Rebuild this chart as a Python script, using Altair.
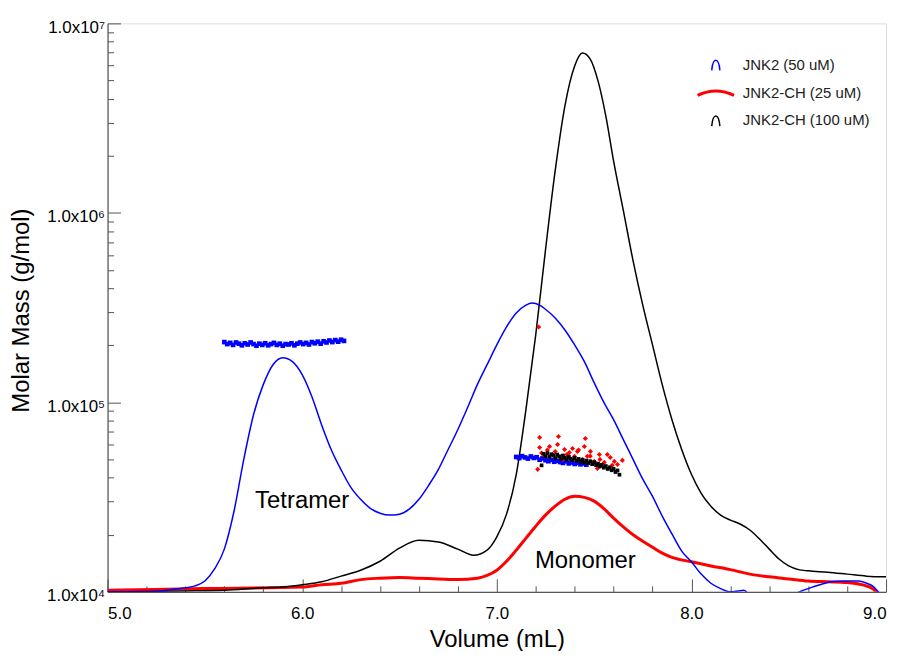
import altair as alt
import pandas as pd

# ---------------- data ----------------
SERIES = ["JNK2 (50 uM)", "JNK2-CH (25 uM)", "JNK2-CH (100 uM)"]
COLORS = ["#0000ff", "#ff0000", "#000000"]
WIDTHS = [1.5, 3.0, 1.5]

X_TICKS = [5.0, 6.0, 7.0, 8.0, 9.0]
X_MINOR = [5.2, 5.4, 5.6, 5.8, 6.2, 6.4, 6.6, 6.8, 7.2, 7.4, 7.6, 7.8, 8.2, 8.4, 8.6, 8.8]
Y_TICKS = [1e4, 1e5, 1e6, 1e7]
Y_LABELS = ["1.0x10\u2074", "1.0x10\u2075", "1.0x10\u2076", "1.0x10\u2077"]
Y_MINOR = [2e4, 3e4, 4e4, 5e4, 6e4, 7e4, 8e4, 9e4,
           2e5, 3e5, 4e5, 5e5, 6e5, 7e5, 8e5, 9e5,
           2e6, 3e6, 4e6, 5e6, 6e6, 7e6, 8e6, 9e6]

# blue line: JNK2 (50 uM)
BLUE_V = [5.0, 5.2, 5.3, 5.4, 5.45, 5.5, 5.55, 5.6, 5.65, 5.7, 5.75, 5.8, 5.85, 5.9, 5.95,
          6.0, 6.05, 6.1, 6.15, 6.2, 6.25, 6.3, 6.35, 6.4, 6.45, 6.5, 6.55, 6.6, 6.65, 6.7,
          6.75, 6.8, 6.85, 6.9, 6.95, 7.0, 7.05, 7.1, 7.15, 7.18, 7.22, 7.25, 7.3, 7.35, 7.4,
          7.45, 7.5, 7.55, 7.6, 7.65, 7.7, 7.75, 7.8, 7.85, 7.9, 7.95, 8.0, 8.05, 8.1, 8.15,
          8.2, 8.24, 8.27, 8.3, 8.4, 8.5, 8.555, 8.6, 8.66, 8.72, 8.78, 8.86, 8.9, 8.93, 8.96, 8.98]
BLUE_M = [1.0e4, 1.0e4, 1.02e4, 1.05e4, 1.075e4, 1.14e4, 1.32e4, 1.68e4, 2.67e4, 5.0e4,
          8.6e4, 1.24e5, 1.58e5, 1.72e5, 1.64e5, 1.40e5, 1.07e5, 7.6e4, 5.6e4, 4.4e4,
          3.56e4, 3.08e4, 2.76e4, 2.60e4, 2.54e4, 2.57e4, 2.73e4, 3.08e4, 3.65e4, 4.43e4,
          5.64e4, 7.19e4, 9.4e4, 1.24e5, 1.58e5, 2.01e5, 2.50e5, 2.96e5, 3.26e5, 3.34e5,
          3.26e5, 3.10e5, 2.79e5, 2.41e5, 2.01e5, 1.64e5, 1.27e5, 1.0e5, 8.1e4, 6.36e4,
          5.0e4, 3.93e4, 3.19e4, 2.51e4, 2.02e4, 1.64e4, 1.44e4, 1.24e4, 1.11e4, 1.04e4,
          1.0e4, 1.01e4, 1.02e4, 0.96e4, 0.9e4, 0.93e4, 1.0e4, 1.04e4, 1.09e4, 1.13e4,
          1.14e4, 1.14e4, 1.11e4, 1.075e4, 1.0e4, 0.95e4]

# red line: JNK2-CH (25 uM)
RED_V = [5.0, 5.5, 6.0, 6.1, 6.2, 6.3, 6.4, 6.5, 6.6, 6.7, 6.8, 6.9, 6.95, 7.0, 7.05,
         7.1, 7.15, 7.2, 7.25, 7.3, 7.35, 7.4, 7.45, 7.5, 7.55, 7.6, 7.65, 7.7, 7.75, 7.8,
         7.85, 7.9, 8.0, 8.1, 8.2, 8.3, 8.4, 8.5, 8.6, 8.7, 8.8, 8.86, 8.93, 8.95, 8.97]
RED_M = [1.02e4, 1.04e4, 1.06e4, 1.09e4, 1.11e4, 1.16e4, 1.18e4, 1.19e4, 1.18e4, 1.17e4,
         1.16e4, 1.18e4, 1.22e4, 1.30e4, 1.45e4, 1.66e4, 1.92e4, 2.22e4, 2.54e4, 2.83e4,
         3.08e4, 3.19e4, 3.15e4, 3.01e4, 2.75e4, 2.45e4, 2.20e4, 2.00e4, 1.85e4, 1.72e4,
         1.60e4, 1.52e4, 1.44e4, 1.37e4, 1.31e4, 1.24e4, 1.20e4, 1.17e4, 1.14e4, 1.13e4,
         1.12e4, 1.10e4, 1.04e4, 1.0e4, 0.95e4]

# black line: JNK2-CH (100 uM)
BLACK_V = [5.0, 5.4, 5.6, 5.8, 5.9, 6.0, 6.1, 6.2, 6.3, 6.4, 6.5, 6.6, 6.7, 6.8, 6.88,
           6.95, 7.0, 7.05, 7.1, 7.15, 7.2, 7.25, 7.3, 7.35, 7.4, 7.44, 7.48, 7.52, 7.56, 7.6,
           7.65, 7.7, 7.75, 7.8, 7.85, 7.9, 7.95, 8.0, 8.05, 8.1, 8.15, 8.2, 8.25, 8.3, 8.35,
           8.4, 8.45, 8.5, 8.55, 8.6, 8.7, 8.8, 8.9, 9.0]
BLACK_M = [1.0e4, 1.01e4, 1.02e4, 1.05e4, 1.06e4, 1.09e4, 1.13e4, 1.21e4, 1.30e4, 1.45e4,
           1.70e4, 1.87e4, 1.83e4, 1.68e4, 1.56e4, 1.66e4, 1.95e4, 2.57e4, 4.17e4, 9.2e4,
           2.27e5, 6.35e5, 1.67e6, 3.67e6, 5.95e6, 6.97e6, 6.48e6, 4.97e6, 3.25e6, 1.88e6,
           1.03e6, 5.6e5, 3.26e5, 2.01e5, 1.24e5, 8.1e4, 5.64e4, 4.17e4, 3.31e4, 2.83e4,
           2.54e4, 2.39e4, 2.28e4, 2.12e4, 1.90e4, 1.68e4, 1.49e4, 1.37e4, 1.31e4, 1.29e4,
           1.27e4, 1.24e4, 1.21e4, 1.20e4]

# molar-mass points: blue tetramer
BT_V = [5.60, 5.615, 5.63, 5.645, 5.66, 5.675, 5.69, 5.705, 5.72, 5.735, 5.75, 5.765, 5.78,
        5.795, 5.81, 5.825, 5.84, 5.855, 5.87, 5.885, 5.90, 5.915, 5.93, 5.945, 5.96, 5.975,
        5.99, 6.005, 6.02, 6.035, 6.05, 6.065, 6.08, 6.095, 6.11, 6.125, 6.14, 6.155, 6.17,
        6.185, 6.20, 6.215]
BT_M = [2.08e5, 2.03e5, 2.06e5, 2.01e5, 2.07e5, 2.04e5, 2.00e5, 2.05e5, 2.02e5, 2.07e5,
        2.03e5, 1.99e5, 2.04e5, 2.01e5, 2.05e5, 2.00e5, 2.03e5, 2.06e5, 2.01e5, 2.04e5,
        1.99e5, 2.03e5, 2.02e5, 2.05e5, 2.00e5, 2.04e5, 2.07e5, 2.03e5, 2.06e5, 2.02e5,
        2.08e5, 2.05e5, 2.09e5, 2.04e5, 2.10e5, 2.07e5, 2.12e5, 2.08e5, 2.13e5, 2.09e5,
        2.14e5, 2.11e5]
# blue monomer
BM_V = [7.10, 7.115, 7.13, 7.145, 7.16, 7.175, 7.19, 7.205, 7.22, 7.235, 7.25, 7.265, 7.28,
        7.295, 7.31, 7.325, 7.34, 7.355, 7.37, 7.385, 7.40, 7.415, 7.43, 7.445, 7.46]
BM_M = [5.15e4, 5.08e4, 5.20e4, 5.12e4, 5.05e4, 5.18e4, 5.09e4, 5.13e4, 4.98e4, 5.06e4,
        4.95e4, 4.89e4, 4.97e4, 4.86e4, 4.92e4, 4.84e4, 4.79e4, 4.88e4, 4.76e4, 4.82e4,
        4.73e4, 4.79e4, 4.71e4, 4.76e4, 4.69e4]
# red points
R_V = [7.220, 7.317, 7.220, 7.271, 7.312, 7.455, 7.450, 7.414, 7.348, 7.373, 7.481, 7.527,
       7.568, 7.583, 7.645, 7.604, 7.517, 7.210, 7.246, 7.286, 7.399, 7.440, 7.501, 7.552,
       7.338, 7.593, 7.465, 7.389, 7.30, 7.36, 7.42, 7.48, 7.53, 7.62, 7.26, 7.23, 7.215]
R_M = [6.52e4, 6.60e4, 5.78e4, 5.85e4, 5.99e4, 6.45e4, 5.85e4, 5.51e4, 5.64e4, 5.44e4,
       5.51e4, 5.31e4, 5.31e4, 5.12e4, 4.94e4, 4.88e4, 4.48e4, 4.43e4, 5.19e4, 5.31e4,
       5.19e4, 5.00e4, 4.88e4, 4.82e4, 5.00e4, 4.65e4, 5.19e4, 5.71e4, 5.5e4, 5.3e4,
       5.6e4, 5.2e4, 5.0e4, 4.7e4, 5.6e4, 5.4e4, 2.50e5]
# black points
K_V = [7.23, 7.24, 7.25, 7.26, 7.27, 7.28, 7.29, 7.30, 7.31, 7.32, 7.33, 7.34, 7.35, 7.36,
       7.37, 7.38, 7.39, 7.40, 7.41, 7.42, 7.43, 7.44, 7.45, 7.46, 7.47, 7.48, 7.49, 7.50,
       7.51, 7.52, 7.53, 7.54, 7.55, 7.56, 7.57, 7.58, 7.59, 7.60, 7.61, 7.62, 7.63]
K_M = [4.65e4, 5.35e4, 5.20e4, 5.40e4, 5.15e4, 5.32e4, 5.26e4, 5.08e4, 5.30e4, 5.19e4,
       5.02e4, 5.24e4, 5.10e4, 4.98e4, 5.16e4, 5.04e4, 4.95e4, 5.09e4, 4.92e4, 5.03e4,
       4.86e4, 4.97e4, 4.81e4, 4.93e4, 4.78e4, 4.89e4, 4.72e4, 4.83e4, 4.66e4, 4.75e4,
       4.59e4, 4.68e4, 4.52e4, 4.61e4, 4.45e4, 4.54e4, 4.38e4, 4.46e4, 4.29e4, 4.37e4,
       4.15e4]

NOTES = ["Tetramer", "Monomer"]
NOTE_V = [6.0, 7.455]
NOTE_M = [3.0e4, 1.45e4]

FONT = "Liberation Sans"

# ---------------- tables ----------------
lines = pd.concat([
    pd.DataFrame({"v": RED_V, "m": RED_M, "series": SERIES[1], "col": COLORS[1], "w": WIDTHS[1]}),
    pd.DataFrame({"v": BLACK_V, "m": BLACK_M, "series": SERIES[2], "col": COLORS[2], "w": WIDTHS[2]}),
    pd.DataFrame({"v": BLUE_V, "m": BLUE_M, "series": SERIES[0], "col": COLORS[0], "w": WIDTHS[0]}),
], ignore_index=True)
lines["order"] = range(len(lines))

pts = pd.concat([
    pd.DataFrame({"v": BT_V, "m": BT_M, "col": COLORS[0], "shp": "square", "sz": 22}),
    pd.DataFrame({"v": BM_V, "m": BM_M, "col": COLORS[0], "shp": "square", "sz": 22}),
    pd.DataFrame({"v": R_V, "m": R_M, "col": COLORS[1], "shp": "diamond", "sz": 26}),
    pd.DataFrame({"v": K_V, "m": K_M, "col": COLORS[2], "shp": "square", "sz": 14}),
], ignore_index=True)

notes = pd.DataFrame({"v": NOTE_V, "m": NOTE_M, "t": NOTES})

# legend carrier: one row per series, placed below the y domain so it is clipped away
legend_df = pd.DataFrame({"v": [6.0, 6.0, 6.0], "m": [1e3, 1e3, 1e3], "series": SERIES})

xs = alt.Scale(domain=[5, 9], nice=False, zero=False)
ys = alt.Scale(type="log", domain=[1e4, 1e7], nice=False)

label_expr = ""
for val, lab in zip(Y_TICKS, Y_LABELS):
    label_expr += f"datum.value == {val} ? '{lab}' : "
label_expr += "''"

AX = "#555555"

x_main = alt.Axis(orient="bottom", values=X_TICKS, format=".1f", ticks=False, grid=False,
                  domainColor=AX, domainWidth=1.2, labelFontSize=17, labelFont=FONT,
                  labelColor="black", labelPadding=14, title="Volume (mL)",
                  titleFontSize=24, titleFont=FONT, titleFontWeight="normal",
                  titleColor="black", titleBaseline="alphabetic", titleY=55)
y_main = alt.Axis(orient="left", values=Y_TICKS, labelExpr=label_expr, ticks=False, grid=False,
                  domainColor=AX, domainWidth=1.2, labelFontSize=17, labelFont=FONT,
                  labelColor="black", labelPadding=3, labelOffset=4,
                  title="Molar Mass (g/mol)",
                  titleFontSize=24, titleFont=FONT, titleFontWeight="normal",
                  titleColor="black", titleX=-86, titleY=288, titleBaseline="middle")
x_major = alt.Axis(orient="bottom", values=X_TICKS, labels=False, domain=False, grid=False,
                   title=None, tickSize=13, offset=-13, tickColor=AX)
y_major = alt.Axis(orient="left", values=Y_TICKS, labels=False, domain=False, grid=False,
                   title=None, tickSize=13, offset=-13, tickColor=AX)
x_minor = alt.Axis(orient="bottom", values=X_MINOR, labels=False, domain=False, grid=False,
                   title=None, tickSize=6, offset=-6, tickColor=AX)
y_minor = alt.Axis(orient="left", values=Y_MINOR, labels=False, domain=False, grid=False,
                   title=None, tickSize=6, offset=-6, tickColor=AX)

ARCH = "M-0.65,0.9 C-0.45,-1.25 0.45,-1.25 0.65,0.9"
FLAT = "M-2.9,0.45 Q0,-0.95 2.9,0.45"

legend_kw = dict(orient="none", legendX=603, legendY=34, title=None,
                 labelFontSize=15, labelFont=FONT, labelColor="#222222",
                 symbolSize=160, rowPadding=10.5, labelOffset=19, padding=0)

line_layer = alt.Chart(lines).mark_line(interpolate="monotone", clip=True).encode(
    x=alt.X("v:Q", scale=xs, axis=x_main),
    y=alt.Y("m:Q", scale=ys, axis=y_main),
    color=alt.Color("col:N", scale=None),
    detail="series:N",
    strokeWidth=alt.StrokeWidth("w:Q", scale=None),
    order="order:Q",
)
pt_layer = alt.Chart(pts).mark_point(filled=True, opacity=1, strokeWidth=0).encode(
    x=alt.X("v:Q", scale=xs, axis=x_major),
    y=alt.Y("m:Q", scale=ys, axis=y_major),
    color=alt.Color("col:N", scale=None),
    shape=alt.Shape("shp:N", scale=None),
    size=alt.Size("sz:Q", scale=None),
)
txt_layer = alt.Chart(notes).mark_text(fontSize=24, font=FONT, color="black",
                                       align="center", baseline="middle").encode(
    x=alt.X("v:Q", scale=xs, axis=x_minor),
    y=alt.Y("m:Q", scale=ys, axis=y_minor),
    text="t:N",
)
leg_layer = alt.Chart(legend_df).mark_point(filled=False, size=160, opacity=1, clip=True).encode(
    x=alt.X("v:Q", scale=xs, axis=None),
    y=alt.Y("m:Q", scale=ys, axis=None),
    color=alt.Color("series:N", scale=alt.Scale(domain=SERIES, range=COLORS),
                    legend=alt.Legend(**legend_kw)),
    shape=alt.Shape("series:N", scale=alt.Scale(domain=SERIES, range=[ARCH, FLAT, ARCH]),
                    legend=alt.Legend(**legend_kw)),
    strokeWidth=alt.StrokeWidth("series:N",
                                scale=alt.Scale(type="ordinal", domain=SERIES, range=WIDTHS),
                                legend=alt.Legend(**legend_kw)),
)

chart = alt.layer(line_layer, pt_layer, txt_layer, leg_layer).resolve_axis(
    x="independent", y="independent"
).properties(
    width=782, height=571,
    autosize=alt.AutoSizeParams(type="none"),
    padding={"left": 100, "top": 14, "right": 12, "bottom": 58},
    background="white",
).configure_view(stroke="#8a8a8a", strokeWidth=1.2).configure(font=FONT)

chart.save("out.html", embed_options={"renderer": "svg", "actions": False})
